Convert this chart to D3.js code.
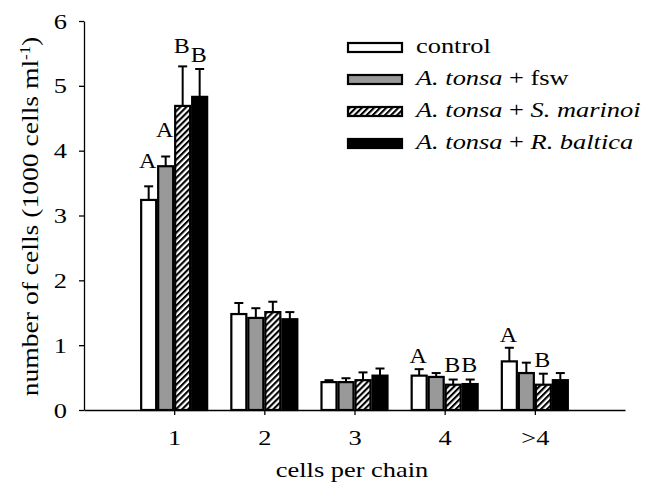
<!DOCTYPE html>
<html>
<head>
<meta charset="utf-8">
<script src="https://cdn.jsdelivr.net/npm/d3@7"></script>
<style>
  html, body { margin: 0; padding: 0; background: #fff; }
  svg { display: block; }
  text { font-family: "Liberation Serif", "Times New Roman", serif; fill: #000; }
</style>
</head>
<body>
<svg id="chart" width="646" height="487"></svg>
<script>
// ---- data ----
const categories = ["1", "2", "3", "4", ">4"];
const seriesNames = ["control", "A. tonsa + fsw", "A. tonsa + S. marinoi", "A. tonsa + R. baltica"];
const controlMean = [3.24, 1.48, 0.43, 0.53, 0.75];
const fswMean     = [3.76, 1.42, 0.43, 0.51, 0.57];
const marinoiMean = [4.69, 1.51, 0.46, 0.39, 0.39];
const balticaMean = [4.83, 1.40, 0.53, 0.40, 0.46];
const controlErr  = [0.21, 0.17, 0.03, 0.10, 0.21];
const fswErr      = [0.15, 0.15, 0.06, 0.06, 0.16];
const marinoiErr  = [0.61, 0.16, 0.12, 0.08, 0.17];
const balticaErr  = [0.43, 0.11, 0.11, 0.07, 0.11];
const yTicks = [0, 1, 2, 3, 4, 5, 6];
// significance letters
const letterText   = ["A", "A", "B", "B", "A", "B", "B", "A", "B"];
const letterCat    = [0, 0, 0, 0, 3, 3, 3, 4, 4];
const letterSeries = [0, 1, 2, 3, 0, 2, 3, 0, 2];
const letterY      = [3.73, 4.21, 5.51, 5.37, 0.72, 0.59, 0.59, 1.05, 0.66];
// legend labels: [text, italic]
const legendParts = [
  [["control", false]],
  [["A. tonsa", true], [" + fsw", false]],
  [["A. tonsa", true], [" + ", false], ["S. marinoi", true]],
  [["A. tonsa", true], [" + ", false], ["R. baltica", true]]
];

const means = [controlMean, fswMean, marinoiMean, balticaMean];
const errs = [controlErr, fswErr, marinoiErr, balticaErr];
const fills = ["#ffffff", "#999999", "url(#hatch)", "#000000"];

// ---- layout ----
const SX = 1.2; // horizontal stretch of the original typeface
const svg = d3.select("#chart");
const x = d3.scaleLinear().domain([0, 6]).range([84, 625]);
const y = d3.scaleLinear().domain([0, 6]).range([410, 21]);
const inner = d3.scaleBand().domain(d3.range(seriesNames.length)).range([-34, 34]);

const defs = svg.append("defs");
const pat = defs.append("pattern")
  .attr("id", "hatch").attr("patternUnits", "userSpaceOnUse")
  .attr("width", 4.3).attr("height", 10)
  .attr("patternTransform", "rotate(45)");
pat.append("rect").attr("width", 4.3).attr("height", 10).attr("fill", "#fff");
pat.append("rect").attr("width", 2.1).attr("height", 10).attr("fill", "#000");

function stext(parent, px, py, rot) {
  return parent.append("g")
    .attr("transform", `translate(${px},${py})` + (rot ? ` rotate(${rot})` : "") + ` scale(${SX},1)`)
    .append("text");
}

// bars
const rows = [];
categories.forEach((c, ci) => {
  seriesNames.forEach((s, si) => {
    rows.push({ ci, si, v: means[si][ci], e: errs[si][ci] });
  });
});

const gBars = svg.append("g");
const gErr = gBars.append("g").attr("stroke", "#000").attr("stroke-width", 2);
rows.forEach(d => {
  const cx = x(d.ci + 1) + inner(d.si) + inner.bandwidth() / 2;
  gErr.append("line").attr("x1", cx).attr("x2", cx)
    .attr("y1", y(d.v)).attr("y2", y(d.v + d.e));
  gErr.append("line").attr("x1", cx - 4.5).attr("x2", cx + 4.5)
    .attr("y1", y(d.v + d.e)).attr("y2", y(d.v + d.e));
});
gBars.selectAll("rect.bar").data(rows).join("rect")
  .attr("class", "bar")
  .attr("x", d => x(d.ci + 1) + inner(d.si) + 1)
  .attr("width", inner.bandwidth() - 2)
  .attr("y", d => y(d.v))
  .attr("height", d => y(0) - y(d.v))
  .attr("fill", d => fills[d.si])
  .attr("stroke", "#000").attr("stroke-width", 2.2);

// axes
const yAxis = d3.axisLeft(y).tickValues(yTicks).tickSize(5).tickSizeOuter(0).tickFormat(d3.format("d"));
const gy = svg.append("g").attr("transform", `translate(${x(0)},0)`).call(yAxis);
gy.select(".domain").attr("stroke", "#000").attr("stroke-width", 1.3);
gy.selectAll(".tick line").attr("stroke", "#000").attr("stroke-width", 1.3);
gy.selectAll(".tick text")
  .attr("font-size", 22).attr("font-family", "Liberation Serif, serif")
  .attr("x", -17 / SX).attr("transform", `scale(${SX},1)`);

const xAxis = d3.axisBottom(x).tickValues([1, 2, 3, 4, 5]).tickSize(5).tickSizeOuter(0)
  .tickFormat(d => categories[d - 1]);
const gx = svg.append("g").attr("transform", `translate(0,${y(0)})`).call(xAxis);
gx.select(".domain").attr("stroke", "#000").attr("stroke-width", 1.3);
gx.selectAll(".tick line").attr("stroke", "#000").attr("stroke-width", 1.3);
gx.selectAll(".tick text")
  .attr("font-size", 22).attr("font-family", "Liberation Serif, serif")
  .attr("y", 19).attr("transform", `scale(${SX},1)`);

// axis titles
stext(svg, 352, 477, 0)
  .attr("text-anchor", "middle").attr("font-size", 22)
  .text("cells per chain");

const yt = stext(svg, 38, (y(0) + y(6)) / 2 + 1, -90)
  .attr("text-anchor", "middle").attr("font-size", 23);
yt.append("tspan").text("number of cells (1000 cells ml");
yt.append("tspan").attr("font-size", 14).attr("dy", -8).text("-1");
yt.append("tspan").attr("dy", 8).text(")");

// significance letters
letterText.forEach((t, i) => {
  const cx = x(letterCat[i] + 1) + inner(letterSeries[i]) + inner.bandwidth() / 2;
  stext(svg, cx - 1, y(letterY[i]), 0)
    .attr("text-anchor", "middle").attr("font-size", 20).text(t);
});

// legend
const legX = 348, legY0 = 53, legDY = 32;
legendParts.forEach((parts, i) => {
  const by = legY0 + i * legDY;
  svg.append("rect").attr("x", legX).attr("y", by - 10).attr("width", 54).attr("height", 9)
    .attr("fill", fills[i]).attr("stroke", "#000").attr("stroke-width", 2.2);
  const t = stext(svg, 416, by, 0).attr("font-size", 22);
  parts.forEach(p => {
    t.append("tspan").attr("font-style", p[1] ? "italic" : "normal").text(p[0]);
  });
});
</script>
</body>
</html>
